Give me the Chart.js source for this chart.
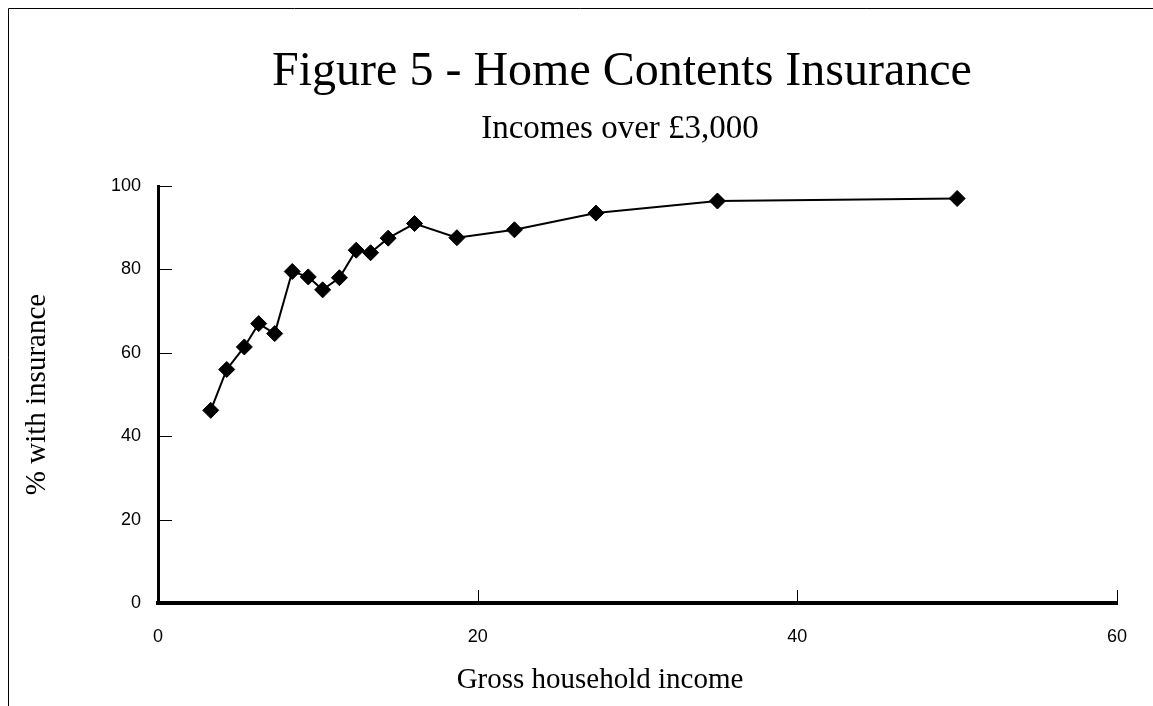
<!DOCTYPE html>
<html>
<head>
<meta charset="utf-8">
<title>Figure 5 - Home Contents Insurance</title>
<script src="https://cdn.jsdelivr.net/npm/chart.js@4/dist/chart.umd.min.js"></script>
<style>
  html, body { margin: 0; padding: 0; background: #fff; overflow: hidden; }
  #box { width: 1153px; height: 706px; }
</style>
</head>
<body>
<div id="box"><canvas id="chart"></canvas></div>
<script>
// 所得帯ごとの保険加入率
const incomes = [3.3, 4.3, 5.4, 6.3, 7.3, 8.4, 9.4, 10.3, 11.35, 12.4, 13.3, 14.4, 16.05, 18.7, 22.3, 27.4, 35, 50];
const insuredPct = [46.2, 56.0, 61.4, 67.0, 64.6, 79.5, 78.2, 75.1, 78.0, 84.6, 84.0, 87.5, 91.0, 87.6, 89.5, 93.5, 96.4, 97.0];
const xTicks = [0, 20, 40, 60];
const yTicks = [0, 20, 40, 60, 80, 100];

const titleText = "Figure 5 - Home Contents Insurance";
const subtitleText = "Incomes over £3,000";
const xTitleText = "Gross household income";
const yTitleText = "% with insurance";

const serif = "'Liberation Serif', 'Times New Roman', serif";
const sans = "'Liberation Sans', Arial, sans-serif";

/** 枠線・タイトル・内向きの目盛りを描くプラグイン */
const decor = {
  id: "decor",
  beforeDraw(chart) {
    const ctx = chart.ctx;
    ctx.save();
    ctx.strokeStyle = "#000";
    ctx.lineWidth = 1;
    ctx.beginPath();
    ctx.moveTo(8.5, chart.height);
    ctx.lineTo(8.5, 8.5);
    ctx.lineTo(chart.width, 8.5);
    ctx.stroke();
    ctx.restore();
  },
  afterDraw(chart) {
    const ctx = chart.ctx;
    const { left, bottom } = chart.chartArea;
    const xs = chart.scales.x;
    const ys = chart.scales.y;
    ctx.save();
    // 内向きの目盛り
    ctx.strokeStyle = "#000";
    ctx.lineWidth = 1;
    ctx.beginPath();
    yTicks.forEach((v) => {
      const y = Math.round(ys.getPixelForValue(v)) + 0.5;
      ctx.moveTo(left, y);
      ctx.lineTo(left + 14, y);
    });
    xTicks.forEach((v) => {
      const x = Math.round(xs.getPixelForValue(v)) + 0.5;
      ctx.moveTo(x, bottom);
      ctx.lineTo(x, bottom - 13);
    });
    ctx.stroke();

    // タイトル類
    ctx.fillStyle = "#000";
    ctx.textAlign = "center";
    ctx.textBaseline = "alphabetic";
    ctx.font = "48px " + serif;
    ctx.fillText(titleText, 622, 85);
    ctx.font = "33px " + serif;
    ctx.fillText(subtitleText, 620, 138);
    ctx.font = "29px " + serif;
    ctx.fillText(xTitleText, 600, 688);
    ctx.restore();
  },
};

const ctx = document.getElementById("chart").getContext("2d");
const chart = new Chart(ctx, {
  type: "scatter",
  data: {
    datasets: [
      {
        label: "% with insurance",
        data: incomes.map((x, i) => ({ x: x, y: insuredPct[i] })),
        showLine: true,
        borderColor: "#000",
        borderWidth: 2,
        pointStyle: "rectRot",
        pointRadius: 8,
        pointHoverRadius: 8,
        pointBackgroundColor: "#000",
        pointBorderColor: "#000",
        pointBorderWidth: 1,
        tension: 0,
      },
    ],
  },
  options: {
    animation: false,
    responsive: true,
    maintainAspectRatio: false,
    layout: {
      padding: { left: 0, top: 186, right: 36, bottom: 0 },
    },
    plugins: {
      legend: { display: false },
      tooltip: { enabled: false },
      title: { display: false },
    },
    scales: {
      x: {
        type: "linear",
        min: 0,
        max: 60,
        afterFit: (s) => { s.height = 103; },
        afterBuildTicks: (s) => { s.ticks = xTicks.map((v) => ({ value: v })); },
        grid: { display: true, drawOnChartArea: false, drawTicks: false },
        border: { display: true, color: "#000", width: 4 },
        ticks: {
          color: "#000",
          padding: 23,
          maxRotation: 0,
          font: { family: sans, size: 18 },
        },
      },
      y: {
        min: 0,
        max: 100,
        afterFit: (s) => { s.width = 158; },
        afterBuildTicks: (s) => { s.ticks = yTicks.map((v) => ({ value: v })); },
        grid: { display: true, drawOnChartArea: false, drawTicks: false },
        border: { display: true, color: "#000", width: 3 },
        ticks: {
          color: "#000",
          padding: 17,
          font: { family: sans, size: 18 },
        },
        title: {
          display: true,
          text: yTitleText,
          color: "#000",
          padding: { top: 20, bottom: 0 },
          font: { family: serif, size: 29 },
        },
      },
    },
  },
  plugins: [decor],
});
</script>
</body>
</html>
